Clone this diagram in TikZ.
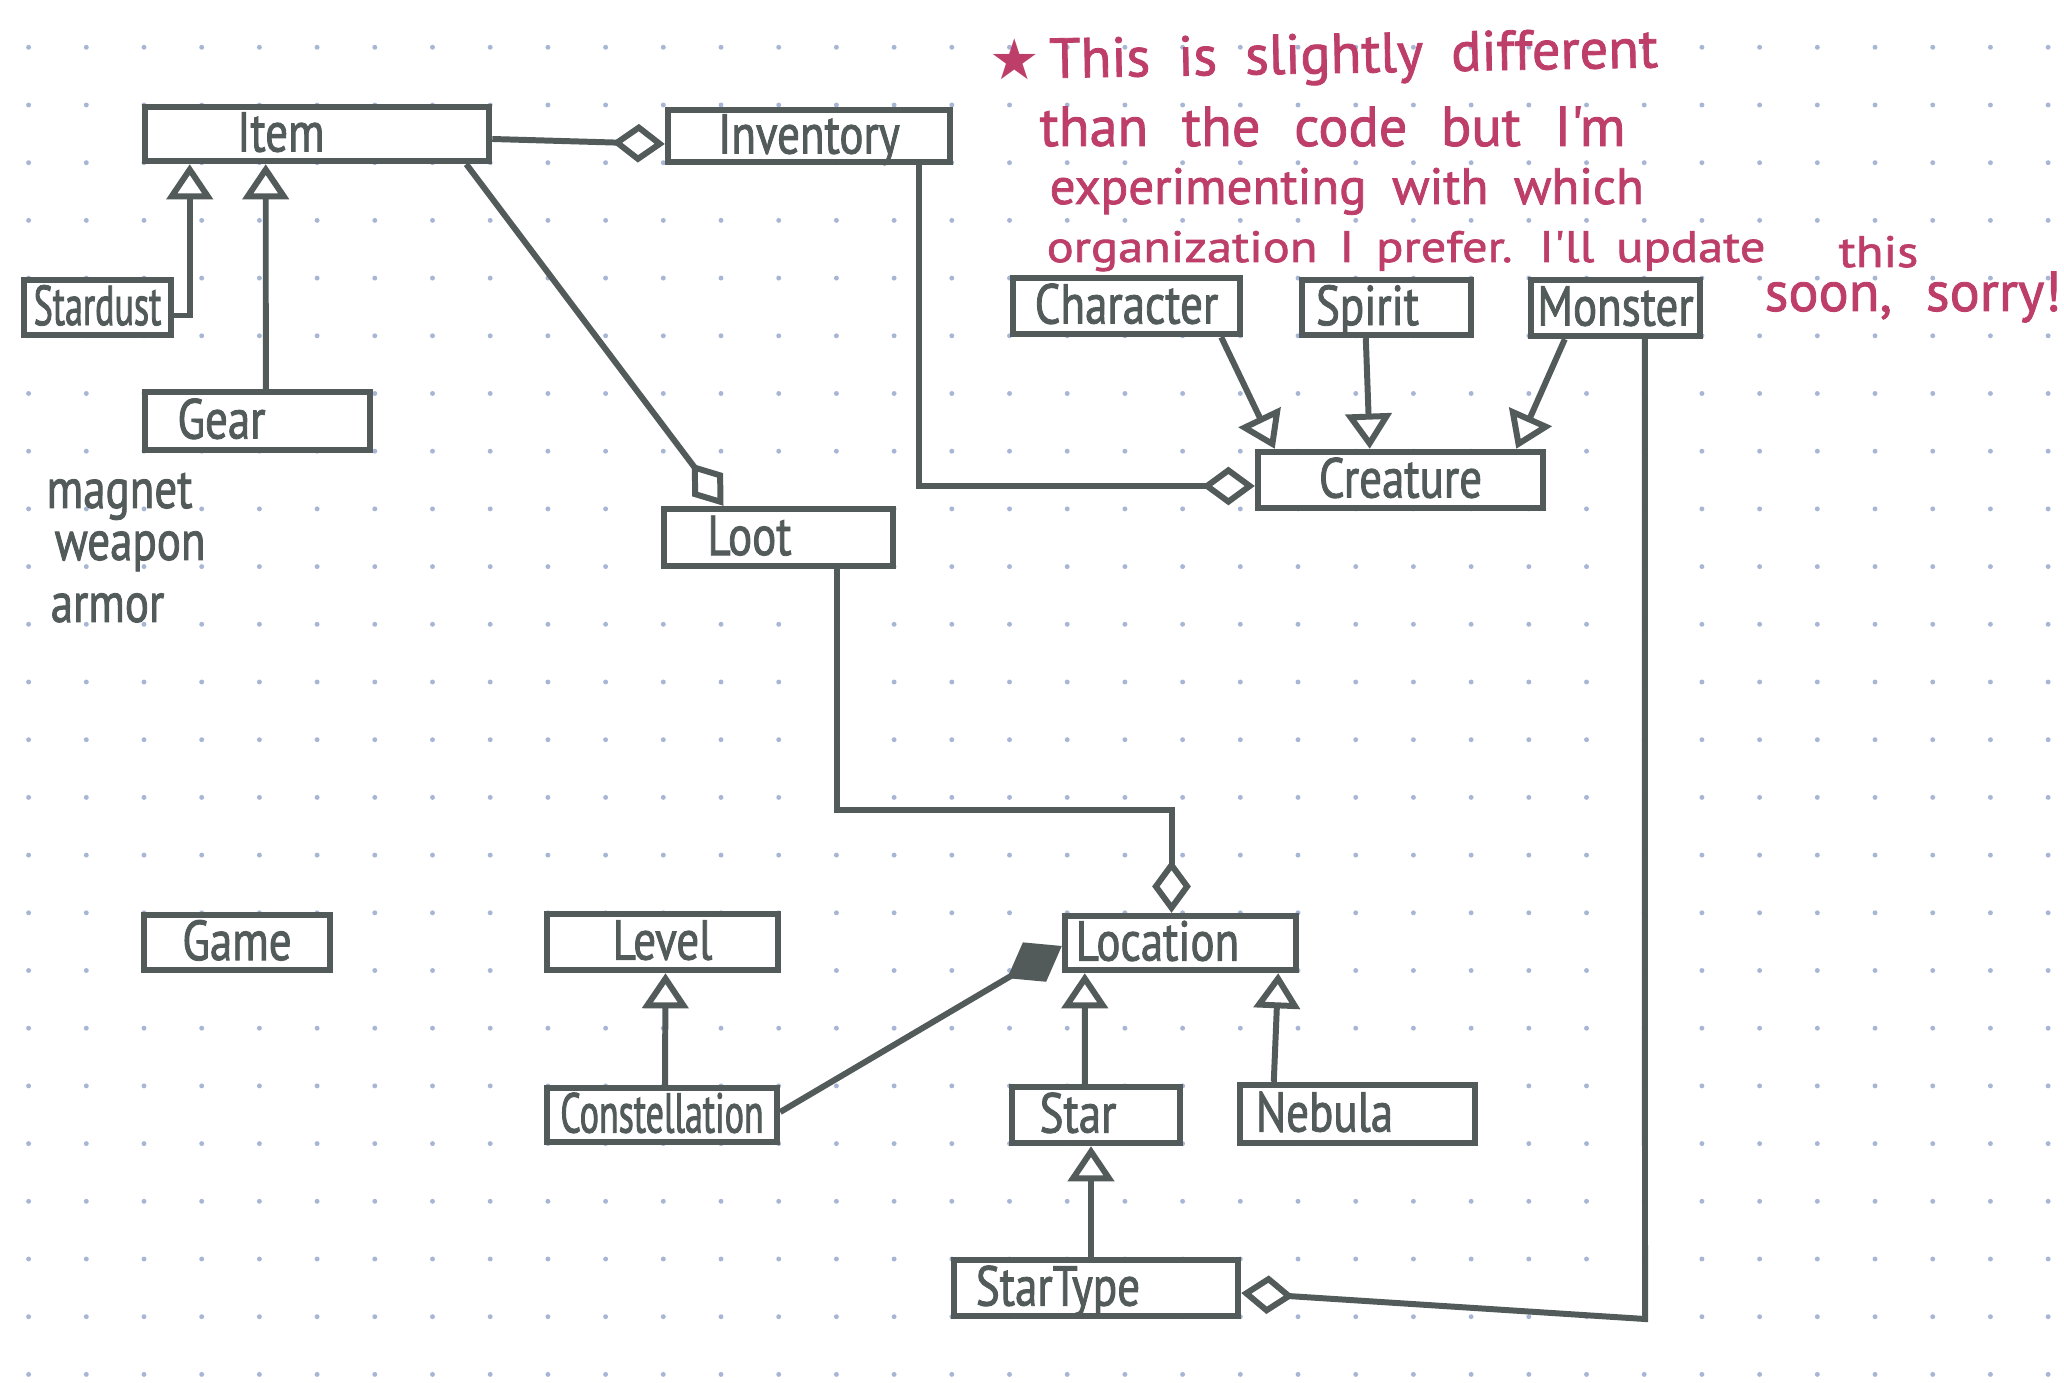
\documentclass[tikz,border=0pt]{standalone}
\usepackage{fontspec}
\setmainfont{PT Sans}[FakeStretch=0.8, FakeBold=1.5]
\newfontfamily\narrowhand{PT Sans}[FakeStretch=0.64, FakeBold=1.5]
\newfontfamily\notehand{PT Sans}[FakeBold=1.5]
\newfontfamily\notewide{PT Sans}[FakeStretch=1.15, FakeBold=1.5]
\newfontfamily\symhand{DejaVu Sans}
\newcommand\widegaps[1]{\spaceskip=#1 plus 0.1em\relax}
\usepackage{tikz}
\usetikzlibrary{arrows.meta, calc}
\definecolor{inkgrey}{RGB}{82,90,90}
\definecolor{notepink}{RGB}{190,62,106}
\definecolor{dotblue}{RGB}{168,182,214}

\begin{document}
\begin{tikzpicture}[x=0.01cm, y=-0.01cm, font=\fontsize{16}{19}\selectfont,
    cls/.style={draw=inkgrey, line width=1.8pt, fill=white, text=inkgrey, inner sep=0pt,
      text height=12pt, text depth=2pt},
    lean/.style={execute at end node={\hspace*{#1}}},
    inh/.style={draw=inkgrey, line width=1.7pt, -{Triangle[fill=white, length=10pt, width=13pt]}},
    agg/.style={draw=inkgrey, line width=1.7pt, -{Diamond[fill=white, length=15pt, width=11pt]}},
    comp/.style={draw=inkgrey, line width=1.7pt, -{Diamond[fill=inkgrey, length=18pt, width=13pt]}},
    note/.style={text=notepink, anchor=base west, inner sep=0pt,
      font=\notehand\fontsize{16}{19}\selectfont\widegaps{0.6em}},
    aside/.style={text=inkgrey, anchor=base west, inner sep=0pt}]
  \fill[white] (0,0) rectangle (2064,1383);
  \useasboundingbox (0,0) rectangle (2064,1383);
  \foreach \i in {0,...,35}
    \foreach \j in {0,...,23}
      \fill[dotblue] (28.6+57.7*\i, 47.3+57.7*\j) circle (0.7pt);

  \node[cls, lean=0.72cm, minimum width=3.44cm, minimum height=0.54cm] (item) at (317,134) {Item};
  \node[cls, minimum width=2.82cm, minimum height=0.52cm] (inv)      at (809,136)      {Inventory};
  \node[cls, minimum width=1.47cm, minimum height=0.55cm] (dust)     at (97.5,307.5)   {\narrowhand Stardust};
  \node[cls, lean=0.72cm, minimum width=2.25cm, minimum height=0.58cm] (gear) at (257.5,421) {Gear};
  \node[cls, minimum width=2.27cm, minimum height=0.56cm] (char)     at (1126.5,306)   {Character};
  \node[cls, lean=0.38cm, minimum width=1.69cm, minimum height=0.55cm] (spirit) at (1386.5,307.5) {Spirit};
  \node[cls, minimum width=1.69cm, minimum height=0.56cm] (monster)  at (1615.5,308)   {Monster};
  \node[cls, minimum width=2.85cm, minimum height=0.56cm] (creature) at (1400.5,480)   {Creature};
  \node[cls, lean=0.58cm, minimum width=2.29cm, minimum height=0.57cm] (loot) at (778.5,537.5) {Loot};
  \node[cls, minimum width=1.86cm, minimum height=0.55cm] (game)     at (237,942.5)    {Game};
  \node[cls, minimum width=2.31cm, minimum height=0.56cm] (level)    at (662.5,942)    {Level};
  \node[cls, lean=0.46cm, minimum width=2.31cm, minimum height=0.54cm] (loc) at (1180.5,943) {Location};
  \node[cls, minimum width=2.30cm, minimum height=0.54cm] (const)    at (662,1115)     {\narrowhand Constellation};
  \node[cls, lean=0.36cm, minimum width=1.68cm, minimum height=0.56cm] (star) at (1096,1115) {Star};
  \node[cls, lean=0.66cm, minimum width=2.35cm, minimum height=0.58cm] (nebula) at (1357.5,1114) {Nebula};
  \node[cls, lean=0.76cm, minimum width=2.84cm, minimum height=0.56cm] (stype) at (1096,1288) {StarType};

  \draw[agg] ($(item.east)+(0,5)$) -- ($(inv.west)+(0,8)$);
  \draw[agg] ($(item.south east)+(-26,0)$) -- ($(loot.north)+(-55,0)$);
  \draw[inh] ($(dust.east)+(0,8)$) -| ($(item.south west)+(48,0)$);
  \draw[inh] ($(gear.north west)+(124,0)$) -- ($(item.south west)+(124,0)$);
  \draw[agg] ($(inv.south east)+(-34,0)$) |- ($(creature.west)+(0,6)$);
  \draw[inh] ($(char.south east)+(-22,0)$) -- ($(creature.north west)+(20,0)$);
  \draw[inh] ($(spirit.south west)+(67,0)$) -- ($(creature.north west)+(115,0)$);
  \draw[inh] ($(monster.south west)+(37,0)$) -- ($(creature.north east)+(-30,0)$);
  \coordinate (turn) at (1645,1319);
  \draw[agg] ($(monster.south west)+(117,0)$) -- (turn) -- ($(stype.east)+(0,5)$);
  \draw[agg] ($(loot.south east)+(-59,0)$) |- ($(loc.north)+(-9,-103)$) -- ($(loc.north)+(-9,0)$);
  \draw[comp] ($(const.east)+(0,-3)$) -- ($(loc.west)+(0,3)$);
  \draw[inh] ($(const.north)+(3,0)$) -- ($(level.south)+(3,0)$);
  \draw[inh] ($(star.north west)+(76,0)$) -- ($(loc.south west)+(23,0)$);
  \draw[inh] ($(nebula.north west)+(37,0)$) -- ($(loc.south east)+(-21,0)$);
  \draw[inh] ($(stype.north)+(-5,0)$) -- ($(star.south)+(-5,0)$);

  \node[note, font=\symhand\fontsize{16}{19}\selectfont] (mark) at (989,80) {★};
  \node[note, rotate=1, font=\notehand\fontsize{16}{19}\selectfont\widegaps{0.5em}]
                        (note1) at (1049,78)  {This is slightly different};
  \node[note]           (note2) at (1039,146) {than the code but I'm};
  \node[note, font=\notehand\fontsize{14.5}{17}\selectfont\widegaps{0.5em}]
                        (note3) at (1049,204) {experimenting with which};
  \node[note, font=\notewide\fontsize{12.5}{15}\selectfont\widegaps{0.5em}]
                        (note4) at (1046,262) {organization I prefer. I'll update};
  \node[note, font=\notewide\fontsize{12.5}{15}\selectfont] (note4b) at (1838,267) {this};
  \node[note]           (note5) at (1764,311) {soon, sorry!};

  \node[aside] (magnet) at (46,508) {magnet};
  \node[aside] (weapon) at (54,560) {weapon};
  \node[aside] (armor)  at (50,622) {armor};
\end{tikzpicture}
\end{document}
